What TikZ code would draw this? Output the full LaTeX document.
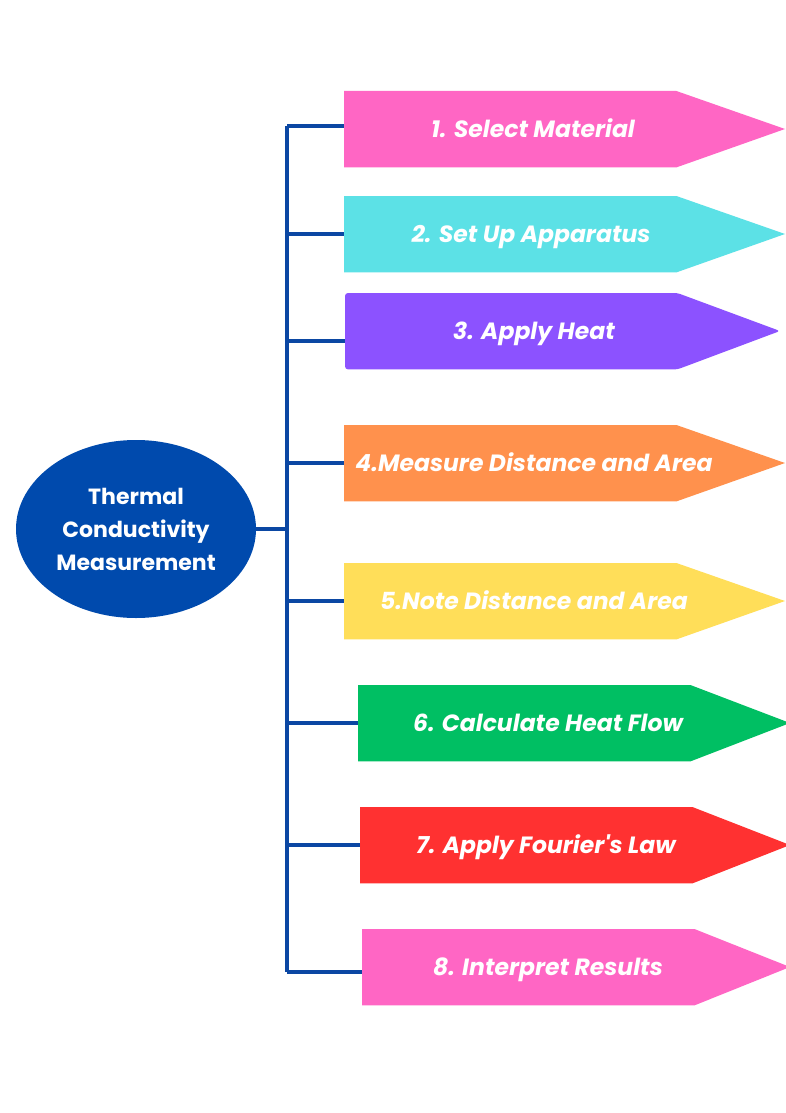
\documentclass[tikz,border=0pt]{standalone}
\usepackage{fontspec}
\setmainfont{Poppins}
\usetikzlibrary{shapes.geometric}

\definecolor{hubblue}{HTML}{004AAD}
\definecolor{linkblue}{HTML}{0B47A3}
\definecolor{cpink}{HTML}{FF66C4}
\definecolor{ccyan}{HTML}{5CE1E6}
\definecolor{cpurple}{HTML}{8C52FF}
\definecolor{corange}{HTML}{FF914D}
\definecolor{cyellow}{HTML}{FFDE59}
\definecolor{cgreen}{HTML}{00BF63}
\definecolor{cred}{HTML}{FF3131}

\tikzset{
  stepbody/.style={rectangle, inner sep=0pt, minimum width=332pt, minimum height=76pt, anchor=north west},
  steptext/.style={text=white, font=\fontsize{23.5}{26}\selectfont\bfseries\itshape,
                   inner sep=0pt, text height=16.5pt, text depth=0pt},
  branch/.style={draw=linkblue, line width=3.5pt},
}

% one coloured arrow: name, left x, top y, tip x, colour, text x, text, corner radius
\newcommand{\steparrow}[8]{%
  \node[stepbody] (#1) at (#2,#3) {};
  \fill[#5, rounded corners=#8] (#1.north west) -- (#1.north east) -- (#4,#3+38)
       -- (#1.south east) -- (#1.south west) -- cycle;
  \node[steptext] (#1t) at (#6,#3+38) {#7};
}

\begin{document}
\begin{tikzpicture}[x=1pt,y=-1pt]
\useasboundingbox (0,0) rectangle (786,1113);
\fill[white] (0,0) rectangle (786,1113);

% central topic
\node[ellipse, fill=hubblue, minimum width=240pt, minimum height=178pt, inner sep=0pt,
      text=white, align=center, font=\fontsize{22}{33}\selectfont\bfseries] (hub) at (136,529)
      {Thermal\\Conductivity\\Measurement};

% steps
\steparrow{s1}{344}{91}{785}{cpink}{533}{1. Select Material}{0pt}
\steparrow{s2}{344}{196}{785}{ccyan}{531}{2. Set Up Apparatus}{0pt}
\steparrow{s3}{345}{293}{780}{cpurple}{534}{3. Apply Heat}{3pt}
\steparrow{s4}{344}{425}{785}{corange}{534}{4.Measure Distance and Area}{0pt}
\steparrow{s5}{344}{563}{785}{cyellow}{534}{5.Note Distance and Area}{0pt}
\steparrow{s6}{358}{685}{790}{cgreen}{548}{6. Calculate Heat Flow}{0pt}
\steparrow{s7}{360}{807}{790}{cred}{546}{7. Apply Fourier\textquotesingle s Law}{0pt}
\steparrow{s8}{362}{929}{790}{cpink}{548}{8. Interpret Results}{0pt}

% tree connectors
\coordinate (b1) at (287,126);
\coordinate (b2) at (287,234);
\coordinate (b3) at (287,341);
\coordinate (b4) at (287,463);
\coordinate (b5) at (287,601);
\coordinate (b6) at (287,723);
\coordinate (b7) at (287,845);
\coordinate (b8) at (287,972);
\draw[branch] (b1) -- (b8);
\draw[branch] (hub.east) -- (hub.east -| b1);
\foreach \i in {1,...,8}{
  \draw[branch] (b\i) -- (b\i -| s\i.west);
}
\end{tikzpicture}
\end{document}
